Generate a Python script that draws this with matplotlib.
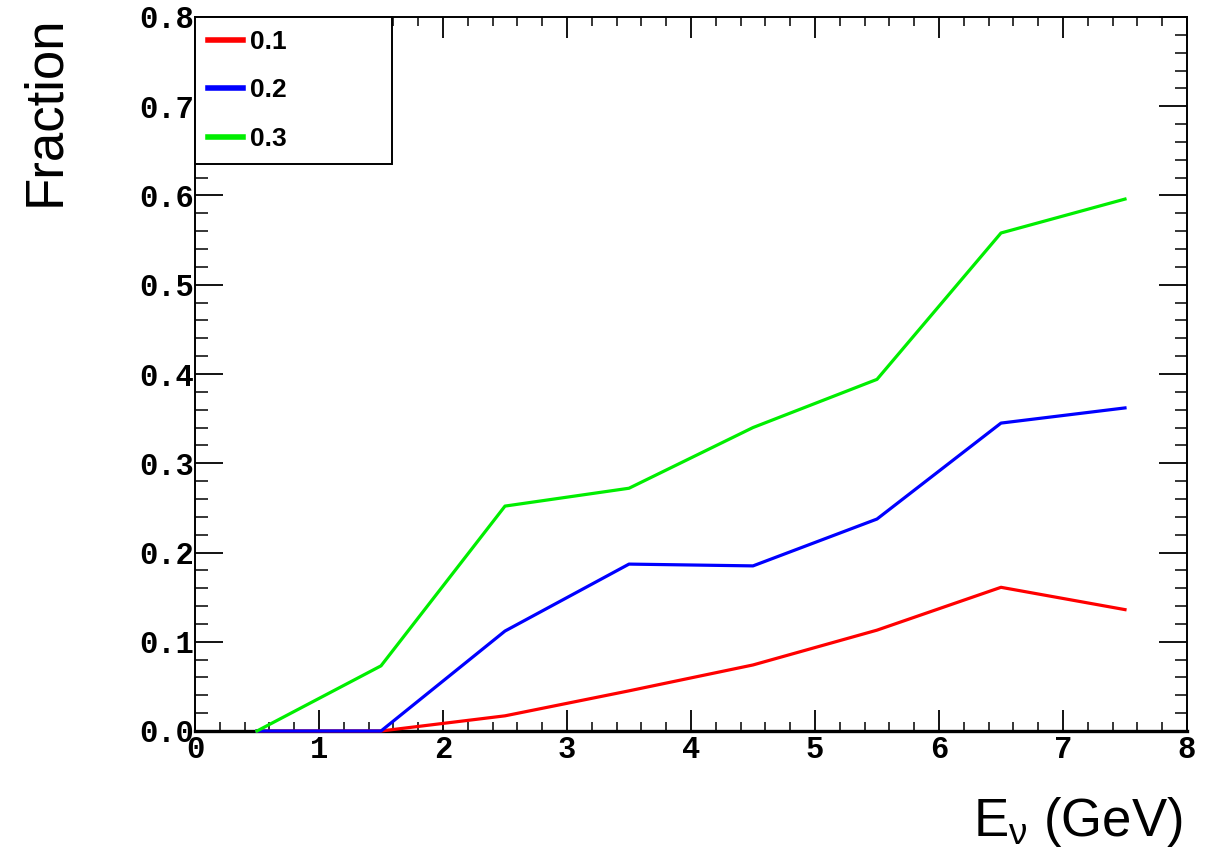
import matplotlib
matplotlib.use("Agg")
import matplotlib.pyplot as plt
from matplotlib.ticker import MultipleLocator, FormatStrFormatter

energy = [0.5, 1.5, 2.5, 3.5, 4.5, 5.5, 6.5, 7.5]
frac_01 = [0.0, 0.0, 0.017, 0.045, 0.074, 0.113, 0.161, 0.136]
frac_02 = [0.0, 0.0, 0.112, 0.187, 0.185, 0.2375, 0.345, 0.362]
frac_03 = [0.0, 0.073, 0.252, 0.272, 0.340, 0.394, 0.558, 0.596]
labels = ["0.1", "0.2", "0.3"]
colors = ["#ff0000", "#0000ff", "#00ee00"]

plt.rcParams["mathtext.fontset"] = "custom"
plt.rcParams["mathtext.rm"] = "Liberation Sans"
plt.rcParams["mathtext.it"] = "Liberation Sans:italic"

W, H = 1221, 851
fig = plt.figure(figsize=(W / 100, H / 100), dpi=100)
ax = fig.add_axes([195 / W, (H - 731) / H, 992 / W, 714 / H])

for ys, lab, c in zip([frac_01, frac_02, frac_03], labels, colors):
    ax.plot(energy, ys, color=c, lw=2.3, label=lab, zorder=3, clip_on=False)

ax.set_xlim(0, 8)
ax.set_ylim(0, 0.8)
ax.xaxis.set_major_locator(MultipleLocator(1))
ax.xaxis.set_minor_locator(MultipleLocator(0.2))
ax.yaxis.set_major_locator(MultipleLocator(0.1))
ax.yaxis.set_minor_locator(MultipleLocator(0.02))
ax.yaxis.set_major_formatter(FormatStrFormatter("%.1f"))
ax.xaxis.set_major_formatter(FormatStrFormatter("%d"))

ax.tick_params(axis="both", which="both", direction="in", top=True, right=True, color="black")
ax.tick_params(axis="x", which="major", length=15, width=1.3, pad=3)
ax.tick_params(axis="x", which="minor", length=6.5, width=1.1)
ax.tick_params(axis="y", which="major", length=20, width=1.3, pad=1)
ax.tick_params(axis="y", which="minor", length=9, width=1.1)

for lab in ax.get_xticklabels() + ax.get_yticklabels():
    lab.set_family("Liberation Mono")
    lab.set_fontweight("bold")
    lab.set_fontsize(22)

for s in ["top", "right", "left"]:
    ax.spines[s].set_linewidth(1.4)
ax.spines["bottom"].set_linewidth(2.4)

fig.text(45 / W, 1 - 15 / H, "Fraction", rotation=90, ha="center", va="top",
         family="Liberation Sans", fontsize=38)
fig.text(1183 / W, 1 - 822 / H, r"E$_\mathrm{\nu}$ (GeV)", ha="right", va="center",
         family="Liberation Sans", fontsize=38)

lh = 143 / 714
leg = ax.legend(loc="upper left", bbox_to_anchor=(0, 1 - lh, 197 / 992, lh),
                mode="expand", borderaxespad=0, frameon=True, fancybox=False,
                prop={"family": "Liberation Sans", "weight": "bold", "size": 19},
                handlelength=1.3, handletextpad=0.3, labelspacing=0.92,
                borderpad=0.5)
leg.get_frame().set_edgecolor("black")
leg.get_frame().set_linewidth(1.4)
leg.get_frame().set_alpha(1)
for l in leg.get_lines():
    l.set_linewidth(4)

fig.savefig("out.png", dpi=100)
